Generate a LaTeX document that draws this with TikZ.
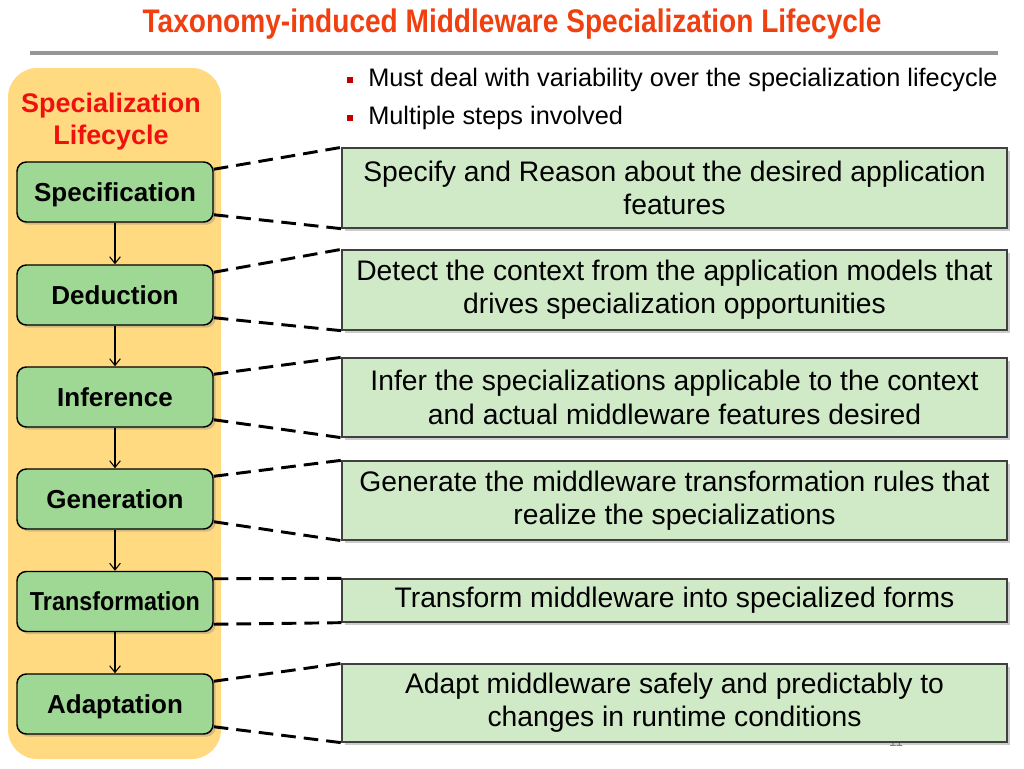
\documentclass[tikz,border=0pt]{standalone}
\usepackage{fontspec}
\setmainfont{Liberation Sans}
\usepackage{graphicx}
\usetikzlibrary{arrows.meta,shadows,calc}
\definecolor{titlered}{RGB}{240,64,16}
\definecolor{headred}{RGB}{240,16,16}
\definecolor{bulletred}{RGB}{192,0,0}
\definecolor{panelyellow}{RGB}{255,218,128}
\definecolor{stepgreen}{RGB}{158,216,148}
\definecolor{descgreen}{RGB}{208,234,200}
\definecolor{boxborder}{RGB}{64,64,64}
\definecolor{rulegray}{RGB}{150,150,150}
\begin{document}
\begin{tikzpicture}[x=0.75pt,y=-0.75pt,
  stepbox/.style={draw=black, line width=1.1pt, fill=stepgreen, rounded corners=7pt,
    minimum width=147pt, minimum height=45pt, inner sep=0pt, text depth=0pt,
    font=\fontsize{19.5}{22}\selectfont\bfseries,
    drop shadow={shadow xshift=2pt, shadow yshift=-2pt, opacity=0.35}},
  descbox/.style={draw=boxborder, line width=1pt, fill=descgreen,
    minimum width=498.75pt, inner sep=0pt, align=center,
    font=\fontsize{21.2}{25}\selectfont,
    drop shadow={shadow xshift=2pt, shadow yshift=-2pt, opacity=0.4}},
  link/.style={dash pattern=on 11pt off 6pt, line width=2.2pt},
  flow/.style={-{Straight Barb[length=5pt,width=8pt]}, line width=0.8pt},
  bullettext/.style={anchor=west, inner sep=0pt, font=\fontsize{19}{22}\selectfont},
  bulletsq/.style={fill=bulletred, minimum size=5pt, inner sep=0pt}
]
\useasboundingbox (0,0) rectangle (1024,768);
\fill[white] (0,0) rectangle (1024,768);

% title and rule
\node[text=titlered, inner sep=0pt] (title) at (512,24)
  {\resizebox{554pt}{\height}{\fontsize{24.5}{28}\selectfont\bfseries Taxonomy-induced Middleware Specialization Lifecycle}};
\draw[rulegray, line width=3pt] (30,53) -- (998,53);

% bullets
\node[bulletsq] (bq1) at (350,80) {};
\node[bullettext] (bt1) at (368,80) {Must deal with variability over the specialization lifecycle};
\node[bulletsq] (bq2) at (350,118) {};
\node[bullettext] (bt2) at (368,118) {Multiple steps involved};

% panel
\fill[panelyellow, rounded corners=22pt] (8,68) rectangle (221,759);
\node[align=center, text=headred, font=\fontsize{20.2}{24}\selectfont\bfseries] (head) at (111,122) {Specialization\\Lifecycle};

% steps
\node[stepbox] (s1) at (115,192) {Specification};
\node[stepbox] (s2) at (115,295) {Deduction};
\node[stepbox] (s3) at (115,397) {Inference};
\node[stepbox] (s4) at (115,499) {Generation};
\node[stepbox] (s5) at (115,601.5) {\resizebox{127.5pt}{\height}{Transformation}};
\node[stepbox] (s6) at (115,704) {Adaptation};

\draw[flow] (s1.south) -- (s2.north);
\draw[flow] (s2.south) -- (s3.north);
\draw[flow] (s3.south) -- (s4.north);
\draw[flow] (s4.south) -- (s5.north);
\draw[flow] (s5.south) -- (s6.north);

% page number (mostly hidden)
\node[text=gray, font=\fontsize{10}{12}\selectfont] (pnum) at (896,742) {11};

% description boxes
\node[descbox, minimum height=60pt] (d1) at (674.5,188) {Specify and Reason about the desired application\\features};
\node[descbox, minimum height=60pt] (d2) at (674.5,290) {Detect the context from the application models that\\drives specialization opportunities};
\node[descbox, minimum height=59.25pt] (d3) at (674.5,397.5) {Infer the specializations applicable to the context\\and actual middleware features desired};
\node[descbox, minimum height=59.25pt] (d4) at (674.5,500.5) {Generate the middleware transformation rules that\\realize the specializations};
\node[descbox, minimum height=32.25pt] (d5) at (674.5,600.5) {Transform middleware into specialized forms};
\node[descbox, minimum height=58.5pt] (d6) at (674.5,703) {Adapt middleware safely and predictably to\\changes in runtime conditions};

% dashed links
\foreach \i in {1,...,6} {
  \draw[link] ($(s\i.north east)+(0,8)$) -- (d\i.north west);
  \draw[link] ($(s\i.south east)+(0,-8)$) -- (d\i.south west);
}
\end{tikzpicture}
\end{document}
